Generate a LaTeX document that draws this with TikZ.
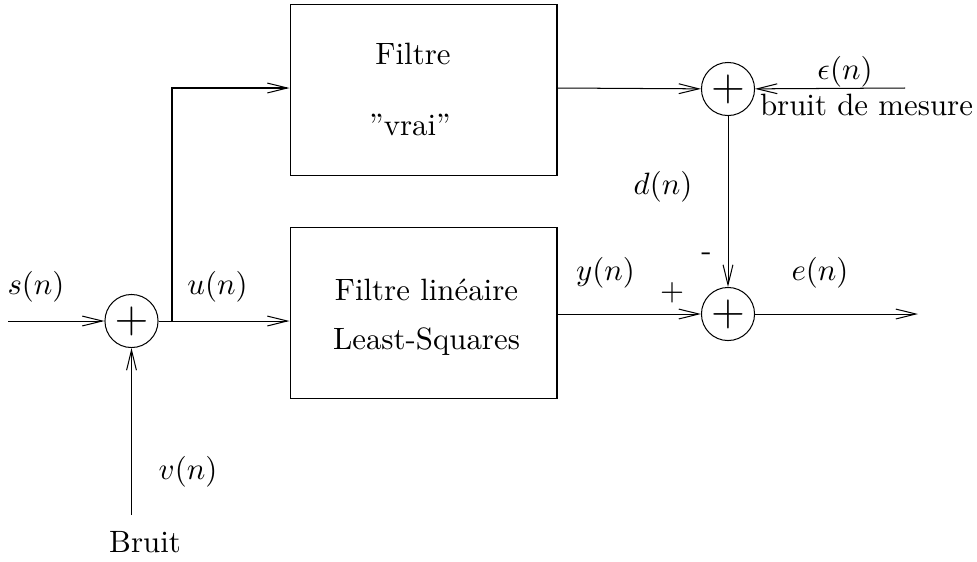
\documentclass[tikz,border=0pt]{standalone}
\usetikzlibrary{arrows.meta}
\begin{document}
\begin{tikzpicture}[x=0.324pt,y=-0.324pt, line width=0.33pt,
  arr/.style={-{Straight Barb[length=6.5pt,width=3.2pt]}},
  blockbox/.style={draw, rectangle, minimum width=86.5pt, minimum height=55.7pt, inner sep=0pt},
  sumnode/.style={draw, circle, minimum size=17.2pt, inner sep=0pt, font=\Large},
  lbl/.style={inner sep=0pt}]
\useasboundingbox (0,0) rectangle (977,561);
% blocks
\node[blockbox] (top) at (423.5,90) {};
\node[lbl, anchor=base] (t1) at (413,64) {Filtre};
\node[lbl, anchor=base] (t2) at (410,135) {''vrai''};
\node[blockbox] (bot) at (423.5,313) {};
\node[lbl, anchor=base] (b1) at (426.5,300) {Filtre linéaire};
\node[lbl, anchor=base] (b2) at (426.5,349) {Least-Squares};
% summing junctions
\node[sumnode] (s1) at (131.5,321) {$+$};
\node[sumnode] (s2) at (728,89) {$+$};
\node[sumnode] (s3) at (728,314) {$+$};
% free ends
\coordinate (sin) at (8,321);
\coordinate (br) at (172,321);
\coordinate (vin) at (131.5,515);
\coordinate (epsin) at (905,88);
\coordinate (eout) at (918,314);
% connectors
\draw[arr] (sin) -- (s1);
\draw[arr] (vin) -- (s1);
\draw (s1) -- (br);
\draw[arr] (br) -- (bot.west |- br);
\draw[arr] (br) |- (top.west |- epsin);
\draw[arr] (top.east |- epsin) -- (s2);
\draw[arr] (epsin) -- (s2);
\draw[arr] (s2) -- (s3);
\draw[arr] (bot.east |- s3) -- (s3);
\draw[arr] (s3) -- (eout);
% labels
\node[lbl] (ls) at (36,287) {$s(n)$};
\node[lbl] (lu) at (217.5,287) {$u(n)$};
\node[lbl] (lv) at (188,472) {$v(n)$};
\node[lbl, anchor=base] (lb) at (145,552) {Bruit};
\node[lbl] (leps) at (845,72) {$\epsilon(n)$};
\node[lbl, anchor=base] (lbm) at (866.5,115) {bruit de mesure};
\node[lbl] (ld) at (663,187) {$d(n)$};
\node[lbl] (lminus) at (706.5,257) {-};
\node[lbl] (lplus) at (672,293) {+};
\node[lbl] (ly) at (605.5,273) {$y(n)$};
\node[lbl] (le) at (820,273) {$e(n)$};
\end{tikzpicture}
\end{document}
